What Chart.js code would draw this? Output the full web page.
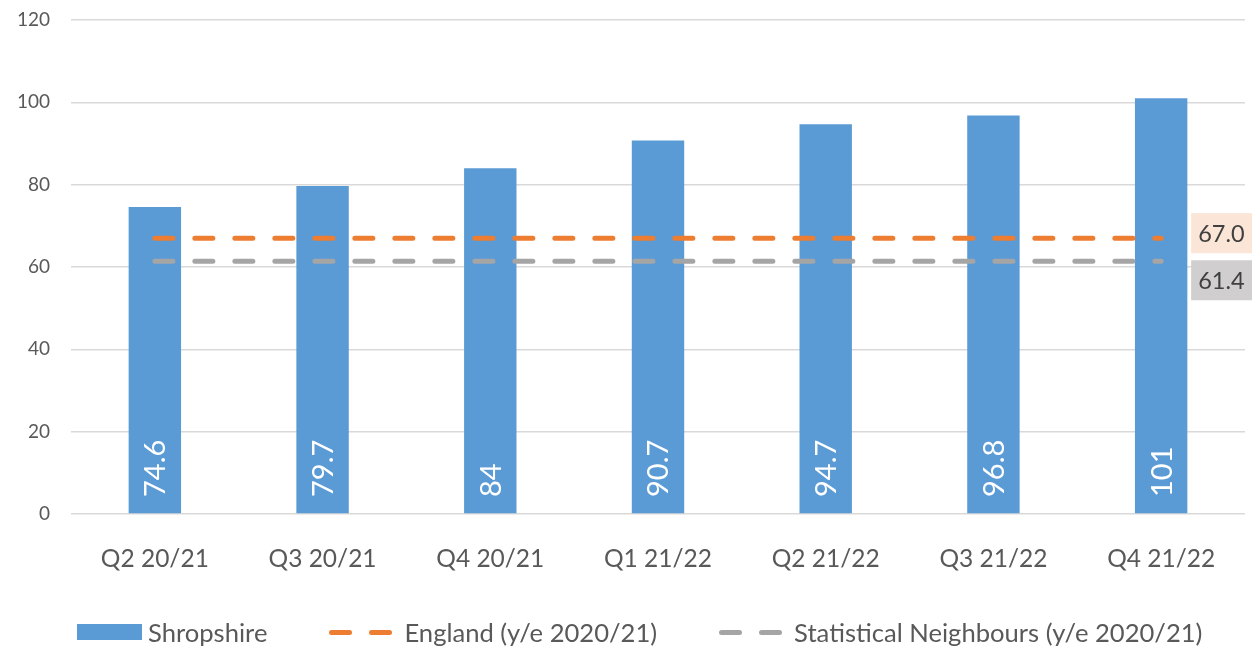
<!DOCTYPE html>
<html>
<head>
<meta charset="utf-8">
<script src="https://cdn.jsdelivr.net/npm/chart.js@4/dist/chart.umd.min.js"></script>
<style>
  html, body { margin: 0; padding: 0; background: #ffffff; }
  #wrap { width: 1252px; height: 648px; position: relative; overflow: hidden; }
  #legend { position: absolute; left: 77px; top: 617px; height: 30px; display: flex; align-items: center;
            font-family: Lato, 'Open Sans', sans-serif; font-size: 25.6px; color: #595959; white-space: nowrap; }
  .box { width: 65px; height: 16px; margin-right: 6px; }
  .dash { display: flex; align-items: center; margin-right: 12px; }
  .dash span { display: block; width: 23px; height: 5px; border-radius: 2.5px; }
  .dash span + span { margin-left: 17px; }
  .gap { width: 62px; }
</style>
</head>
<body>
<div id="wrap"><canvas id="c"></canvas><div id="legend"></div></div>
<script>
const categories = ["Q2 20/21", "Q3 20/21", "Q4 20/21", "Q1 21/22", "Q2 21/22", "Q3 21/22", "Q4 21/22"];
const shropshire = [74.6, 79.7, 84, 90.7, 94.7, 96.8, 101];
const england = [67.0, 67.0, 67.0, 67.0, 67.0, 67.0, 67.0];
const statNeighbours = [61.4, 61.4, 61.4, 61.4, 61.4, 61.4, 61.4];
const seriesNames = ["Shropshire", "England (y/e 2020/21)", "Statistical Neighbours (y/e 2020/21)"];
const yTicks = [0, 20, 40, 60, 80, 100, 120];

const FONT = "Lato, 'Open Sans', sans-serif";
const TEXT = "#595959";

const barLabelPlugin = {
  id: "barLabels",
  afterDatasetsDraw(chart) {
    const ctx = chart.ctx;
    const meta = chart.getDatasetMeta(0);
    const yBase = chart.scales.y.getPixelForValue(0);
    const size = 29;
    ctx.save();
    ctx.font = size + "px " + FONT;
    ctx.fillStyle = "#ffffff";
    ctx.textAlign = "left";
    ctx.textBaseline = "alphabetic";
    meta.data.forEach((bar, i) => {
      ctx.save();
      ctx.translate(bar.x, yBase - 17);
      ctx.rotate(-Math.PI / 2);
      ctx.fillText(String(chart.data.datasets[0].data[i]), 0, size * 0.36);
      ctx.restore();
    });
    ctx.restore();
  }
};

const endLabelPlugin = {
  id: "endLabels",
  afterDatasetsDraw(chart) {
    const ctx = chart.ctx;
    const specs = [
      { ds: 1, bg: "#FBE5D6", dy: -5 },
      { ds: 2, bg: "#D0CECE", dy: 19 }
    ];
    ctx.save();
    specs.forEach(s => {
      const meta = chart.getDatasetMeta(s.ds);
      const data = chart.data.datasets[s.ds].data;
      const last = meta.data[meta.data.length - 1];
      const x0 = last.x + 30;
      const cy = last.y + s.dy;
      ctx.fillStyle = s.bg;
      ctx.fillRect(x0, cy - 20, 64, 40);
      ctx.fillStyle = "#404040";
      ctx.font = "23.5px " + FONT;
      ctx.textAlign = "left";
      ctx.textBaseline = "middle";
      ctx.fillText(Number(data[data.length - 1]).toFixed(1), x0 + 7, cy + 1);
    });
    ctx.restore();
  }
};

const chart = new Chart(document.getElementById("c"), {
  type: "bar",
  data: {
    labels: categories,
    datasets: [
      {
        type: "bar",
        label: seriesNames[0],
        data: shropshire,
        backgroundColor: "#5B9BD5",
        categoryPercentage: 1,
        barPercentage: 0.3125,
        order: 2
      },
      {
        type: "line",
        label: seriesNames[1],
        data: england,
        borderColor: "#ED7D31",
        backgroundColor: "#ED7D31",
        borderWidth: 5,
        borderDash: [18, 22],
        borderCapStyle: "round",
        pointRadius: 0,
        fill: false,
        order: 0
      },
      {
        type: "line",
        label: seriesNames[2],
        data: statNeighbours,
        borderColor: "#A5A5A5",
        backgroundColor: "#A5A5A5",
        borderWidth: 5,
        borderDash: [18, 22],
        borderCapStyle: "round",
        pointRadius: 0,
        fill: false,
        order: 1
      }
    ]
  },
  options: {
    responsive: true,
    maintainAspectRatio: false,
    animation: false,
    layout: { padding: { top: 20, right: 7, left: 0, bottom: 74 } },
    plugins: {
      tooltip: { enabled: false },
      legend: { display: false }
    },
    scales: {
      x: {
        grid: { display: false },
        border: { display: false },
        ticks: {
          color: TEXT,
          font: { family: FONT, size: 24.5 },
          padding: 22,
          maxRotation: 0,
          autoSkip: false
        },
        afterFit(scale) { scale.height = 60; }
      },
      y: {
        min: yTicks[0],
        max: yTicks[yTicks.length - 1],
        afterBuildTicks(scale) { scale.ticks = yTicks.map(v => ({ value: v })); },
        grid: { color: "#D9D9D9", lineWidth: 1.5, drawTicks: true, tickLength: 21, tickColor: "rgba(0,0,0,0)" },
        border: { display: false },
        ticks: {
          color: TEXT,
          font: { family: FONT, size: 19 },
          padding: 0
        },
        afterFit(scale) { scale.width = 71; }
      }
    }
  },
  plugins: [barLabelPlugin, endLabelPlugin]
});

// HTML legend built from the chart's datasets
const legendEl = document.getElementById("legend");
chart.data.datasets.forEach((ds, i) => {
  if (i > 0) {
    const g = document.createElement("div");
    g.className = "gap";
    legendEl.appendChild(g);
  }
  if (ds.type === "line") {
    const d = document.createElement("div");
    d.className = "dash";
    for (let k = 0; k < 2; k++) {
      const s = document.createElement("span");
      s.style.background = ds.borderColor;
      d.appendChild(s);
    }
    legendEl.appendChild(d);
  } else {
    const b = document.createElement("div");
    b.className = "box";
    b.style.background = ds.backgroundColor;
    legendEl.appendChild(b);
  }
  const t = document.createElement("span");
  t.textContent = ds.label;
  legendEl.appendChild(t);
});
</script>
</body>
</html>
